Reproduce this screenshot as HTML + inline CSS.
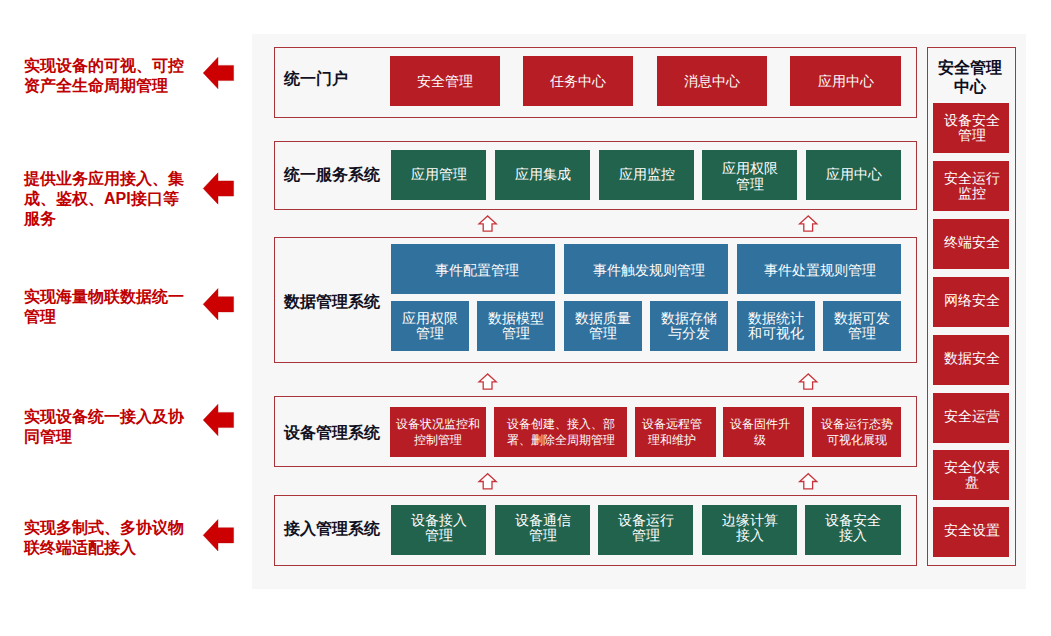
<!DOCTYPE html>
<html><head><meta charset="utf-8">
<style>
*{margin:0;padding:0;box-sizing:border-box}
html,body{width:1051px;height:636px;background:#fff;overflow:hidden;font-family:"Liberation Sans",sans-serif}
.a{position:absolute}
.panel{left:252px;top:34px;width:774px;height:555px;background:#f7f7f7}
.row{border:1px solid #a93439;left:274px;width:643px}
.lbl{left:284px;font-size:16px;font-weight:bold;color:#111122;white-space:nowrap;line-height:20px}
.bx{display:flex;align-items:center;justify-content:center;text-align:center;color:#fff;font-size:14px;line-height:15.4px}
.bx{padding-top:3px}
.rc1{padding:0 0 2px 1px}
.rc2{padding:0 0 0 1px}
.sm{font-size:12px;line-height:15.7px;padding-top:1px}
.r{background:#b71d25}
.g{background:#22634d}
.b{background:#31719d}
.lt{left:24px;white-space:nowrap;font-size:16px;font-weight:bold;color:#c00000;line-height:20px}
.arr{left:203px}
.up{position:absolute}
</style></head><body>
<div class="a panel"></div>

<!-- left texts -->
<div class="a lt" style="top:56px">实现设备的可视、可控<br>资产全生命周期管理</div>
<div class="a lt" style="top:169px">提供业务应用接入、集<br>成、鉴权、API接口等<br>服务</div>
<div class="a lt" style="top:287px">实现海量物联数据统一<br>管理</div>
<div class="a lt" style="top:406.5px">实现设备统一接入及协<br>同管理</div>
<div class="a lt" style="top:517.5px">实现多制式、多协议物<br>联终端适配接入</div>

<!-- arrows -->
<svg class="a" style="left:0;top:0" width="1051" height="636">
<g fill="#cc0000" stroke="#b80000" stroke-width="0.4">
<polygon points="203.2,73.0 218.0,57.3 218.0,65.4 233.6,65.4 233.6,80.6 218.0,80.6 218.0,88.7"/>
<polygon points="203.2,188.5 218.0,172.8 218.0,180.9 233.6,180.9 233.6,196.1 218.0,196.1 218.0,204.2"/>
<polygon points="203.2,304.3 218.0,288.6 218.0,296.7 233.6,296.7 233.6,311.9 218.0,311.9 218.0,320.0"/>
<polygon points="203.2,420.0 218.0,404.3 218.0,412.4 233.6,412.4 233.6,427.6 218.0,427.6 218.0,435.7"/>
<polygon points="203.2,535.3 218.0,519.6 218.0,527.7 233.6,527.7 233.6,542.9 218.0,542.9 218.0,551.0"/>
</g>
<g fill="#fff" stroke="#c8343b" stroke-width="1.3">
<polygon points="487.6,216.0 479.0,223.8 483.2,223.8 483.2,231.2 492.0,231.2 492.0,223.8 496.2,223.8"/>
<polygon points="808.2,216.0 799.6,223.8 803.8,223.8 803.8,231.2 812.6,231.2 812.6,223.8 816.8,223.8"/>
<polygon points="487.6,374.0 479.0,381.8 483.2,381.8 483.2,389.2 492.0,389.2 492.0,381.8 496.2,381.8"/>
<polygon points="808.2,374.0 799.6,381.8 803.8,381.8 803.8,389.2 812.6,389.2 812.6,381.8 816.8,381.8"/>
<polygon points="487.6,473.7 479.0,481.5 483.2,481.5 483.2,488.9 492.0,488.9 492.0,481.5 496.2,481.5"/>
<polygon points="808.2,473.7 799.6,481.5 803.8,481.5 803.8,488.9 812.6,488.9 812.6,481.5 816.8,481.5"/>
</g>
</svg>

<!-- rows -->
<div class="a row" style="top:47px;height:71px"></div>
<div class="a lbl" style="top:69px">统一门户</div>
<div class="a bx r" style="left:390px;top:56px;width:110px;height:50px;padding-top:1px">安全管理</div>
<div class="a bx r" style="left:523px;top:56px;width:110px;height:50px;padding-top:1px">任务中心</div>
<div class="a bx r" style="left:657px;top:56px;width:110px;height:50px;padding-top:1px">消息中心</div>
<div class="a bx r" style="left:790px;top:56px;width:111px;height:50px;padding-top:1px">应用中心</div>

<div class="a row" style="top:141px;height:69px"></div>
<div class="a lbl" style="top:165px">统一服务系统</div>
<div class="a bx g" style="left:391px;top:150px;width:95px;height:50px;padding-top:0;padding-bottom:1px">应用管理</div>
<div class="a bx g" style="left:495px;top:150px;width:95px;height:50px;padding-top:0;padding-bottom:1px">应用集成</div>
<div class="a bx g" style="left:599px;top:150px;width:95px;height:50px;padding-top:0;padding-bottom:1px">应用监控</div>
<div class="a bx g" style="left:702px;top:150px;width:95px;height:50px">应用权限<br>管理</div>
<div class="a bx g" style="left:806px;top:150px;width:95px;height:50px;padding-top:0;padding-bottom:1px">应用中心</div>

<div class="a row" style="top:237px;height:126px"></div>
<div class="a lbl" style="top:292px">数据管理系统</div>
<div class="a bx b" style="left:391px;top:244px;width:164px;height:50px;padding-left:7px">事件配置管理</div>
<div class="a bx b" style="left:564px;top:244px;width:164px;height:50px;padding-left:5px">事件触发规则管理</div>
<div class="a bx b" style="left:737px;top:244px;width:164px;height:50px;padding-left:2px">事件处置规则管理</div>
<div class="a bx b" style="left:391px;top:301px;width:78px;height:50px;padding-top:0">应用权限<br>管理</div>
<div class="a bx b" style="left:477px;top:301px;width:78px;height:50px;padding-top:0">数据模型<br>管理</div>
<div class="a bx b" style="left:564px;top:301px;width:78px;height:50px;padding-top:0">数据质量<br>管理</div>
<div class="a bx b" style="left:650px;top:301px;width:78px;height:50px;padding-top:0">数据存储<br>与分发</div>
<div class="a bx b" style="left:737px;top:301px;width:78px;height:50px;padding-top:0">数据统计<br>和可视化</div>
<div class="a bx b" style="left:823px;top:301px;width:78px;height:50px;padding-top:0">数据可发<br>管理</div>

<div class="a row" style="top:396px;height:71px"></div>
<div class="a lbl" style="top:423px">设备管理系统</div>
<div class="a bx r sm" style="left:390px;top:407px;width:96px;height:50px">设备状况监控和<br>控制管理</div>
<div class="a bx r sm" style="left:494px;top:407px;width:133px;height:50px">设备创建、接入、部<br>署、删除全周期管理</div>
<div class="a bx r sm" style="left:635px;top:407px;width:81px;height:50px;padding-right:7px">设备远程管<br>理和维护</div>
<div class="a bx r sm" style="left:723px;top:407px;width:81px;height:50px;padding-right:7px">设备固件升<br>级</div>
<div class="a bx r sm" style="left:812px;top:407px;width:89px;height:50px">设备运行态势<br>可视化展现</div>

<div class="a row" style="top:495px;height:71px"></div>
<div class="a lbl" style="top:519px">接入管理系统</div>
<div class="a bx g" style="left:391px;top:505px;width:95px;height:50px;padding-top:0;padding-bottom:3.6px">设备接入<br>管理</div>
<div class="a bx g" style="left:495px;top:505px;width:95px;height:50px;padding-top:0;padding-bottom:3.6px">设备通信<br>管理</div>
<div class="a bx g" style="left:598px;top:505px;width:95px;height:50px;padding-top:0;padding-bottom:3.6px">设备运行<br>管理</div>
<div class="a bx g" style="left:702px;top:505px;width:95px;height:50px;padding-top:0;padding-bottom:3.6px">边缘计算<br>接入</div>
<div class="a bx g" style="left:805px;top:505px;width:96px;height:50px;padding-top:0;padding-bottom:3.6px">设备安全<br>接入</div>

<!-- right column -->
<div class="a" style="left:927px;top:47px;width:89px;height:519px;border:1px solid #a93439"></div>
<div class="a" style="left:925.5px;top:58px;width:89px;text-align:center;font-size:16px;font-weight:bold;color:#0d0d1e;line-height:19px">安全管理<br>中心</div>
<div class="a bx r rc2" style="left:933px;top:103px;width:76px;height:50px">设备安全<br>管理</div>
<div class="a bx r rc2" style="left:933px;top:161px;width:76px;height:50px">安全运行<br>监控</div>
<div class="a bx r rc1" style="left:933px;top:219px;width:76px;height:50px">终端安全</div>
<div class="a bx r rc1" style="left:933px;top:277px;width:76px;height:50px">网络安全</div>
<div class="a bx r rc1" style="left:933px;top:335px;width:76px;height:50px">数据安全</div>
<div class="a bx r rc1" style="left:933px;top:393px;width:76px;height:50px">安全运营</div>
<div class="a bx r rc2" style="left:933px;top:450px;width:76px;height:50px">安全仪表<br>盘</div>
<div class="a bx r rc1" style="left:933px;top:507px;width:76px;height:50px">安全设置</div>
</body></html>
